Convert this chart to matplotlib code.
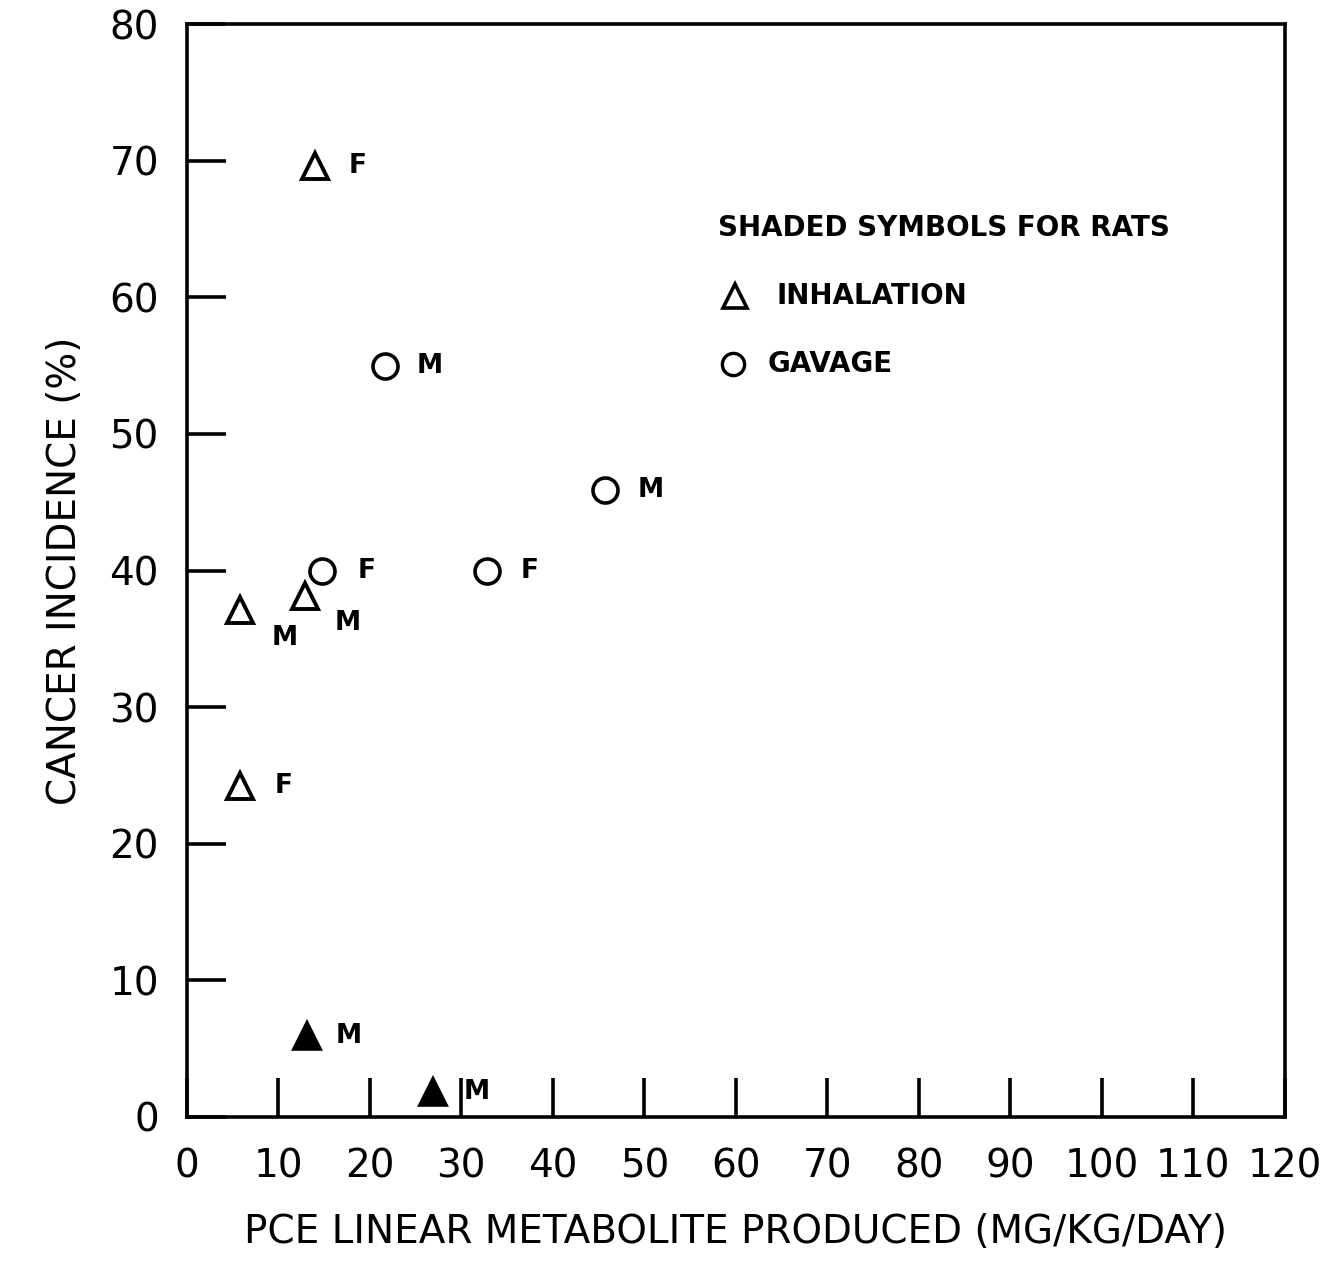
#!/usr/bin/env python
# coding: utf-8

""" Cancer incidence vs PCE linear metabolite produced """

import matplotlib.pyplot as plt

# mice, inhalation (open triangles)
inh_x = [14.0, 5.8, 12.9, 5.8]
inh_y = [69.6, 37.1, 38.1, 24.2]
inh_sex = ['F', 'M', 'M', 'F']

# mice, gavage (open circles)
gav_x = [21.7, 45.7, 14.8, 32.8]
gav_y = [55.0, 45.9, 40.0, 40.0]
gav_sex = ['M', 'M', 'F', 'F']

# rats, inhalation (shaded triangles)
rat_x = [13.2, 26.9]
rat_y = [5.9, 1.8]
rat_sex = ['M', 'M']

x_ticks = list(range(0, 121, 10))
y_ticks = list(range(0, 81, 10))

# label offsets in pixels (dx, dy)
inh_off = [(43, 0), (45, -28), (43, -27), (44, 0)]
gav_off = [(44, 0), (46, 0), (44, 0), (43, 0)]
rat_off = [(41, 0), (44, 0)]

plt.rcParams['font.family'] = ['DejaVu Sans']

fig = plt.figure(figsize=(13.24, 12.64), dpi=100)
ax = fig.add_axes([0.141, 0.1163, 0.8295, 0.8647])

ms = 19
ax.plot(inh_x, inh_y, '^', ms=ms, mfc='white', mec='black', mew=2.8, clip_on=False)
ax.plot(gav_x, gav_y, 'o', ms=ms - 1, mfc='white', mec='black', mew=2.6, clip_on=False)
ax.plot(rat_x, rat_y, '^', ms=ms, mfc='black', mec='black', mew=2.6, clip_on=False)

def label_points(xs, ys, labels, offs):
    for x, y, s, (dx, dy) in zip(xs, ys, labels, offs):
        ax.annotate(s, (x, y), xytext=(dx, dy), textcoords='offset pixels',
                    ha='center', va='center', fontsize=19, fontweight='bold')

label_points(inh_x, inh_y, inh_sex, inh_off)
label_points(gav_x, gav_y, gav_sex, gav_off)
label_points(rat_x, rat_y, rat_sex, rat_off)

# key
ax.text(58.0, 65.1, 'SHADED SYMBOLS FOR RATS', fontsize=20, fontweight='bold',
        ha='left', va='center')
ax.plot([59.9], [60.1], '^', ms=17, mfc='white', mec='black', mew=2.6)
ax.text(64.4, 60.1, 'INHALATION', fontsize=20, fontweight='bold', ha='left', va='center')
ax.plot([59.7], [55.1], 'o', ms=16, mfc='white', mec='black', mew=2.4)
ax.text(63.5, 55.1, 'GAVAGE', fontsize=20, fontweight='bold', ha='left', va='center')

ax.set_xlim(0, 120)
ax.set_ylim(0, 80)
ax.set_xticks(x_ticks)
ax.set_yticks(y_ticks)
ax.tick_params(direction='in', length=28, width=2.6, labelsize=28, pad=20)
ax.tick_params(axis='x', pad=22)
for sp in ax.spines.values():
    sp.set_linewidth(2.6)

ax.set_xlabel('PCE LINEAR METABOLITE PRODUCED (MG/KG/DAY)', fontsize=28, labelpad=20)
ax.set_ylabel('CANCER INCIDENCE (%)', fontsize=28, labelpad=18)

fig.savefig('out.png', dpi=100)
